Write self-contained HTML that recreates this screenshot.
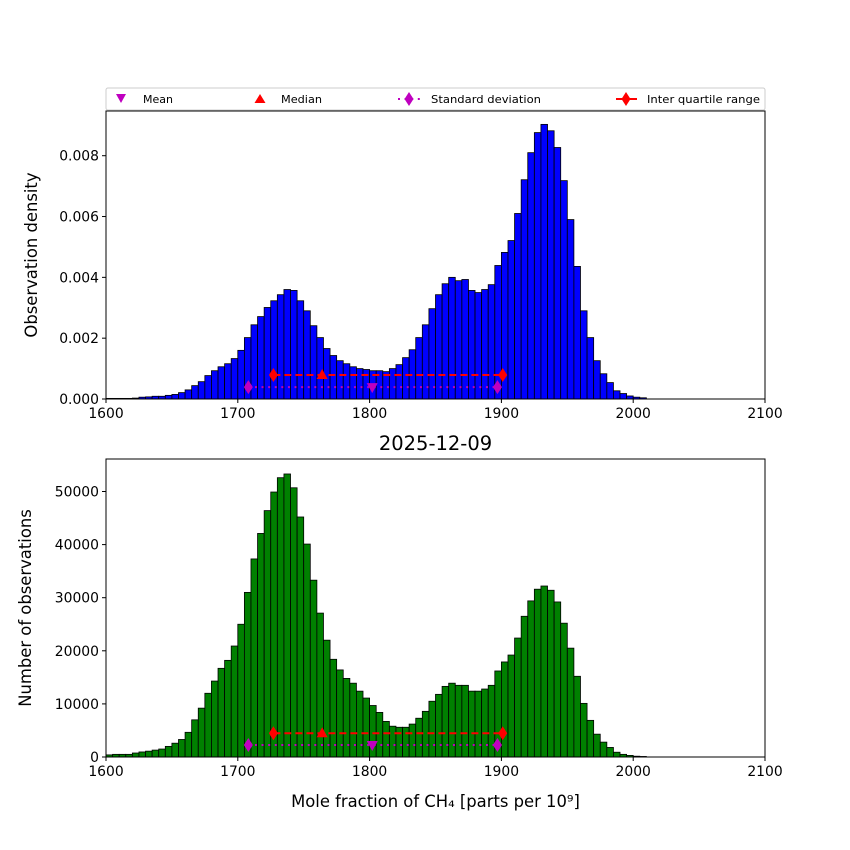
<!DOCTYPE html>
<html><head><meta charset="utf-8"><style>
body{margin:0;background:#fff}
svg{display:block;font-family:"DejaVu Sans","Liberation Sans",sans-serif}
</style></head><body>
<svg id="fig" width="850" height="850" viewBox="0 0 850 850" xmlns="http://www.w3.org/2000/svg"></svg>
<script>
const binStarts = [1600,1605,1610,1615,1620,1625,1630,1635,1640,1645,1650,1655,1660,1665,1670,1675,1680,1685,1690,1695,1700,1705,1710,1715,1720,1725,1730,1735,1740,1745,1750,1755,1760,1765,1770,1775,1780,1785,1790,1795,1800,1805,1810,1815,1820,1825,1830,1835,1840,1845,1850,1855,1860,1865,1870,1875,1880,1885,1890,1895,1900,1905,1910,1915,1920,1925,1930,1935,1940,1945,1950,1955,1960,1965,1970,1975,1980,1985,1990,1995,2000,2005];
const binWidth = 5;
const densityValues = [0.00002,0.00002,0.00002,0.00002,0.00003,0.00006,0.00007,0.00009,0.00009,0.00012,0.00015,0.00021,0.0003,0.00044,0.00057,0.00077,0.00093,0.00106,0.00116,0.00133,0.0016,0.00202,0.00244,0.00271,0.00301,0.00323,0.00343,0.0036,0.00357,0.00323,0.0029,0.00241,0.00202,0.00166,0.00143,0.00126,0.00116,0.00106,0.001,0.00097,0.00093,0.00093,0.0009,0.001,0.00113,0.00136,0.00162,0.00202,0.00244,0.00297,0.00343,0.00379,0.004,0.00389,0.00393,0.00357,0.0035,0.0036,0.00376,0.00439,0.00482,0.00521,0.0061,0.00721,0.0081,0.00876,0.00903,0.00882,0.00827,0.00718,0.0059,0.00436,0.0029,0.00202,0.00126,0.00083,0.00054,0.00027,0.00018,0.0001,0.00006,0.00004];
const countValues = [400,500,500,500,750,950,1100,1300,1500,2000,2600,3300,4650,7000,9200,12000,14300,16700,18200,20900,25000,31000,37300,42100,46400,49900,52600,53300,50700,45200,40100,33300,27100,22000,18400,16400,14800,13900,12400,11100,9700,8400,6700,5800,5600,5600,6200,7300,8600,10500,11800,13300,13900,13500,13500,12400,12400,12800,13500,16200,17900,19200,22400,26500,29400,31600,32200,31400,29200,25200,20500,15200,10100,6900,4300,2800,1800,900,500,300,150,100];
const xTicks = [1600,1700,1800,1900,2000,2100];
const topYTicks = [0,0.002,0.004,0.006,0.008];
const topYTickLabels = ["0.000","0.002","0.004","0.006","0.008"];
const botYTicks = [0,10000,20000,30000,40000,50000];
const botYTickLabels = ["0","10000","20000","30000","40000","50000"];
const stats = {mean:1802, median:1764, sdLow:1708, sdHigh:1897, iqrLow:1727, iqrHigh:1901};
const topMarkerY = {iqr:0.00079, sd:0.00039};
const botMarkerY = {iqr:4470, sd:2260};

const NS="http://www.w3.org/2000/svg";
const svg=document.getElementById('fig');
function mk(tag,attrs,parent){const e=document.createElementNS(NS,tag);for(const k in attrs)e.setAttribute(k,attrs[k]);(parent||svg).appendChild(e);return e;}
const X0=106,X1=765;
const xs=v=>X0+(v-1600)/(2100-1600)*(X1-X0);

function panel(name,top,bottom,ymax,vals,color,yticks,ylabels,ylabel,mY,ylx){
  const g=mk('g',{});
  
  
  const ys=v=>bottom-v/ymax*(bottom-top);
  for(let i=0;i<binStarts.length;i++){
    const x=xs(binStarts[i]),w=xs(binStarts[i]+binWidth)-x,y=ys(vals[i]);
    const r=mk('rect',{x:x,y:y,width:w,height:bottom-y,fill:color,stroke:'#000','stroke-width':0.8},g);
    
    
  }
  const yi=ys(mY.iqr),yd=ys(mY.sd);
  const l1=mk('line',{x1:xs(stats.sdLow),x2:xs(stats.sdHigh),y1:yd,y2:yd,stroke:'#bf00bf','stroke-width':2,'stroke-dasharray':'2,4.6'},g);
  
  
  const l2=mk('line',{x1:xs(stats.iqrLow),x2:xs(stats.iqrHigh),y1:yi,y2:yi,stroke:'#f00','stroke-width':2,'stroke-dasharray':'7,4'},g);
  
  
  const dia=(cx,cy,c,n)=>{const d=mk('polygon',{points:`${cx},${cy-7} ${cx+4.5},${cy} ${cx},${cy+7} ${cx-4.5},${cy}`,fill:c},g);};
  dia(xs(stats.sdLow),yd,'#bf00bf','std-marker');dia(xs(stats.sdHigh),yd,'#bf00bf','std-marker');
  dia(xs(stats.iqrLow),yi,'#f00','iqr-marker');dia(xs(stats.iqrHigh),yi,'#f00','iqr-marker');
  const mx=xs(stats.median);
  const med=mk('polygon',{points:`${mx},${yi-6} ${mx+5.5},${yi+4} ${mx-5.5},${yi+4}`,fill:'#f00'},g);
  
  
  const mn=xs(stats.mean);
  const mean=mk('polygon',{points:`${mn-5.5},${yd-4} ${mn+5.5},${yd-4} ${mn},${yd+6}`,fill:'#bf00bf'},g);
  
  
  const f=mk('rect',{x:X0,y:top,width:X1-X0,height:bottom-top,fill:'none',stroke:'#000','stroke-width':1},g);
  
  
  xTicks.forEach(t=>{const x=xs(t);mk('line',{x1:x,x2:x,y1:bottom,y2:bottom+4,stroke:'#000'},g);
    const tx=mk('text',{x:x,y:bottom+19,'font-size':13.9,'text-anchor':'middle'},g);tx.textContent=t;
    
    });
  yticks.forEach((t,i)=>{const y=ys(t);mk('line',{x1:X0-4,x2:X0,y1:y,y2:y,stroke:'#000'},g);
    const tx=mk('text',{x:X0-7,y:y+5,'font-size':13.9,'text-anchor':'end'},g);tx.textContent=ylabels[i];
    
    });
  const cy=(top+bottom)/2;
  const yl=mk('text',{x:0,y:0,'font-size':16.4,'text-anchor':'middle',transform:`translate(${ylx},${cy}) rotate(-90)`},g);
  yl.textContent=ylabel;
  
  
}
panel('top-panel',111,399,0.00947,densityValues,'#0000ff',topYTicks,topYTickLabels,'Observation density',topMarkerY,37);
panel('bottom-panel',459,757,56120,countValues,'#008000',botYTicks,botYTickLabels,'Number of observations',botMarkerY,31);

const title=mk('text',{x:435.5,y:450,'font-size':19.5,'text-anchor':'middle'});
title.textContent='2025-12-09';


const xl=mk('text',{x:435.5,y:807,'font-size':16.4,'text-anchor':'middle'});
xl.textContent='Mole fraction of CH₄ [parts per 10⁹]';



const lg=mk('g',{});


mk('rect',{x:106,y:88,width:659,height:22,rx:2,fill:'#fff',stroke:'#ccc'},lg);
const ly=99;
mk('polygon',{points:`116,${ly-5} 126,${ly-5} 121,${ly+4}`,fill:'#bf00bf'},lg);
mk('polygon',{points:`260,${ly-5} 265.5,${ly+4} 254.5,${ly+4}`,fill:'#f00'},lg);
mk('line',{x1:398,x2:420,y1:ly,y2:ly,stroke:'#bf00bf','stroke-width':2,'stroke-dasharray':'2,4.6'},lg);
mk('polygon',{points:`409,${ly-7} 413.5,${ly} 409,${ly+7} 404.5,${ly}`,fill:'#bf00bf'},lg);
mk('line',{x1:616,x2:637,y1:ly,y2:ly,stroke:'#f00','stroke-width':2},lg);
mk('polygon',{points:`626,${ly-7} 630.5,${ly} 626,${ly+7} 621.5,${ly}`,fill:'#f00'},lg);
[[143,'Mean','legend-mean',30],[281,'Median','legend-median',41],[431,'Standard deviation','legend-std',110],[647,'Inter quartile range','legend-iqr',113]].forEach(a=>{
  const t=mk('text',{x:a[0],y:ly+4,'font-size':11,textLength:a[3],lengthAdjust:'spacingAndGlyphs'},lg);t.textContent=a[1];
  
  
});
</script>
</body></html>
